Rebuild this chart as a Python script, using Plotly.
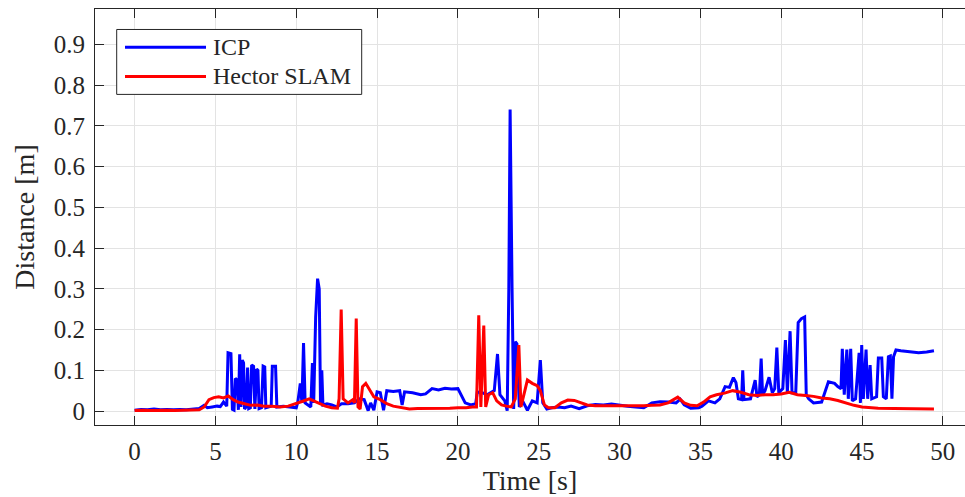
import plotly.graph_objects as go

# ---- data ----
icp_t = [0.0, 0.4, 0.8, 1.2, 1.6, 2.0, 2.4, 2.8, 3.2, 3.6, 4.0, 4.3, 4.5, 4.8, 5.1, 5.3, 5.5, 5.7,
         5.78, 5.96, 6.05, 6.15, 6.23, 6.33, 6.42, 6.50, 6.58, 6.66, 6.74, 6.80, 6.90, 6.99, 7.06,
         7.16, 7.24, 7.36, 7.44, 7.55, 7.63, 7.70, 7.85, 7.95, 8.05, 8.12, 8.3, 8.45, 8.52, 8.72,
         8.8, 9.2, 9.6, 10.0, 10.1, 10.25, 10.35, 10.45, 10.55, 10.7, 10.9, 11.0, 11.08, 11.2,
         11.32, 11.42, 11.5, 11.58, 11.65, 11.9, 12.2, 12.5, 12.8, 13.2, 13.6, 13.9, 14.2, 14.45,
         14.6, 14.8, 15.0, 15.2, 15.4, 15.6, 16.0, 16.4, 16.55, 16.7, 17.2, 17.7, 18.0, 18.4, 18.8,
         19.2, 19.6, 20.0, 20.2, 20.45, 20.8, 21.1, 21.2, 21.5, 21.8, 22.05, 22.25, 22.45, 22.6,
         22.9, 23.05, 23.15, 23.23, 23.35, 23.45, 23.55, 23.65, 23.8, 24.0, 24.3, 24.6, 24.9,
         25.1, 25.25, 25.5, 25.8, 26.2, 26.6, 27.0, 27.5, 28.0, 28.5, 29.0, 29.5, 30.0, 30.5,
         31.0, 31.5, 32.0, 32.5, 33.0, 33.5, 33.75, 34.0, 34.4, 34.9, 35.1, 35.5, 35.9, 36.2,
         36.53, 36.8, 37.04, 37.2, 37.35, 37.55, 37.62, 37.7, 38.1, 38.39, 38.5, 38.65, 38.76,
         38.85, 39.0, 39.25, 39.45, 39.6, 39.73, 39.85, 40.1, 40.26, 40.38, 40.55, 40.67, 40.9,
         41.05, 41.25, 41.45, 41.55, 41.7, 42.0, 42.5, 42.7, 42.92, 43.3, 43.5, 43.7, 43.78,
         43.9, 44.06, 44.15, 44.3, 44.4, 44.6, 44.82, 44.9, 44.98, 45.08, 45.25, 45.35, 45.5,
         45.6, 45.9, 46.01, 46.22, 46.32, 46.5, 46.63, 46.75, 46.85, 46.95, 47.1, 47.4, 48.0,
         48.5, 49.0, 49.45]
icp_d = [0.002, 0.004, 0.003, 0.005, 0.003, 0.004, 0.003, 0.004, 0.003, 0.005, 0.006, 0.014,
         0.008, 0.010, 0.012, 0.011, 0.022, 0.012, 0.143, 0.141, 0.004, 0.002, 0.080, 0.077,
         0.003, 0.139, 0.010, 0.125, 0.118, 0.005, 0.010, 0.107, 0.006, 0.008, 0.113, 0.110,
         0.005, 0.103, 0.100, 0.006, 0.008, 0.110, 0.108, 0.008, 0.010, 0.012, 0.110, 0.110,
         0.010, 0.012, 0.010, 0.008, 0.023, 0.068, 0.020, 0.167, 0.020, 0.015, 0.010, 0.118,
         0.020, 0.230, 0.325, 0.300, 0.020, 0.100, 0.015, 0.018, 0.015, 0.010, 0.018, 0.018,
         0.020, 0.030, 0.028, 0.001, 0.020, 0.002, 0.047, 0.045, 0.002, 0.050, 0.048, 0.050,
         0.015, 0.047, 0.045, 0.040, 0.042, 0.055, 0.052, 0.056, 0.054, 0.055, 0.040, 0.020,
         0.015, 0.018, 0.047, 0.045, 0.040, 0.045, 0.050, 0.140, 0.040, 0.025, 0.001, 0.300,
         0.740, 0.300, 0.005, 0.170, 0.165, 0.010, 0.025, 0.002, 0.025, 0.020, 0.125, 0.020,
         0.005, 0.008, 0.010, 0.008, 0.012, 0.006, 0.013, 0.016, 0.015, 0.017, 0.014, 0.012,
         0.010, 0.008, 0.020, 0.023, 0.022, 0.020, 0.029, 0.015, 0.007, 0.008, 0.012, 0.025,
         0.020, 0.030, 0.060, 0.058, 0.082, 0.070, 0.030, 0.028, 0.100, 0.028, 0.030, 0.076,
         0.035, 0.040, 0.129, 0.040, 0.050, 0.083, 0.045, 0.055, 0.156, 0.045, 0.055, 0.174,
         0.045, 0.196, 0.045, 0.045, 0.217, 0.227, 0.231, 0.040, 0.030, 0.020, 0.022, 0.045,
         0.072, 0.068, 0.060, 0.055, 0.153, 0.040, 0.151, 0.030, 0.153, 0.025, 0.030, 0.143,
         0.020, 0.162, 0.030, 0.151, 0.030, 0.113, 0.030, 0.035, 0.130, 0.130, 0.035, 0.030,
         0.133, 0.135, 0.030, 0.133, 0.150, 0.148, 0.145, 0.143, 0.145, 0.148]

hec_t = [0.0, 0.5, 1.0, 1.5, 2.0, 2.5, 3.0, 3.5, 4.0, 4.3, 4.6, 4.9, 5.2, 5.5, 5.8, 6.1, 6.4, 6.8,
         7.2, 7.6, 8.0, 8.5, 9.0, 9.5, 10.0, 10.4, 10.8, 11.1, 11.4, 11.8, 12.2, 12.55, 12.65,
         12.78, 12.9, 13.2, 13.5, 13.6, 13.71, 13.82, 13.95, 14.1, 14.3, 14.55, 14.8, 15.2, 15.6,
         16.0, 16.5, 17.0, 17.5, 18.0, 18.5, 19.0, 19.5, 20.0, 20.5, 20.9, 21.15, 21.29, 21.42,
         21.6, 21.72, 21.9, 22.15, 22.4, 22.7, 23.0, 23.3, 23.55, 23.77, 23.9, 24.1, 24.3, 24.6,
         24.9, 25.1, 25.35, 25.6, 26.0, 26.4, 26.8, 27.2, 27.6, 28.0, 28.5, 29.0, 29.5, 30.0,
         30.5, 31.0, 31.5, 32.0, 32.5, 33.0, 33.6, 34.0, 34.4, 34.8, 35.2, 35.6, 36.0, 36.5,
         37.0, 37.5, 38.0, 38.5, 39.0, 39.5, 40.0, 40.5, 41.0, 41.5, 42.0, 42.5, 43.0, 43.5,
         44.0, 44.5, 45.0, 45.5, 46.0, 47.0, 48.0, 49.45]
hec_d = [0.001, 0.002, 0.001, 0.002, 0.002, 0.001, 0.002, 0.002, 0.003, 0.010, 0.028, 0.033,
         0.035, 0.032, 0.037, 0.028, 0.022, 0.018, 0.014, 0.015, 0.012, 0.012, 0.010, 0.012,
         0.018, 0.024, 0.030, 0.025, 0.018, 0.012, 0.008, 0.007, 0.030, 0.249, 0.030, 0.020,
         0.028, 0.020, 0.227, 0.010, 0.005, 0.060, 0.068, 0.050, 0.035, 0.028, 0.018, 0.012,
         0.008, 0.005, 0.006, 0.006, 0.007, 0.006, 0.007, 0.008, 0.008, 0.010, 0.010, 0.235,
         0.010, 0.210, 0.010, 0.040, 0.045, 0.025, 0.015, 0.012, 0.010, 0.030, 0.162, 0.010,
         0.040, 0.076, 0.068, 0.062, 0.050, 0.015, 0.008, 0.008, 0.020, 0.027, 0.026, 0.020,
         0.015, 0.013, 0.013, 0.012, 0.013, 0.012, 0.013, 0.013, 0.014, 0.015, 0.020, 0.034,
         0.020, 0.014, 0.013, 0.022, 0.035, 0.040, 0.044, 0.050, 0.046, 0.040, 0.038, 0.040,
         0.040, 0.042, 0.046, 0.040, 0.038, 0.036, 0.032, 0.030, 0.026, 0.020, 0.014, 0.010,
         0.008, 0.007, 0.006, 0.006, 0.005]

x_ticks = [0, 5, 10, 15, 20, 25, 30, 35, 40, 45, 50]
y_ticks = [0, 0.1, 0.2, 0.3, 0.4, 0.5, 0.6, 0.7, 0.8, 0.9]
y_tick_text = ["0", "0.1", "0.2", "0.3", "0.4", "0.5", "0.6", "0.7", "0.8", "0.9"]
series_names = ["ICP", "Hector SLAM"]
series_colors = ["#0000ff", "#ff0000"]

FONT = "Liberation Serif"
W, H = 965, 497
L, R, T, B = 95, 0, 8.5, 72

fig = go.Figure()
fig.add_trace(go.Scatter(x=icp_t, y=icp_d, mode="lines", name=series_names[0],
                         line=dict(color=series_colors[0], width=3), showlegend=False))
fig.add_trace(go.Scatter(x=hec_t, y=hec_d, mode="lines", name=series_names[1],
                         line=dict(color=series_colors[1], width=3), showlegend=False))

axis_col = "#262626"
grid_col = "#e3e3e3"
fig.update_layout(
    width=W, height=H,
    margin=dict(l=L, r=R, t=T, b=B, pad=0, autoexpand=False),
    paper_bgcolor="white", plot_bgcolor="white",
    font=dict(family=FONT, color=axis_col),
    xaxis=dict(range=[-2.45, 51.37], tickvals=x_ticks, ticks="inside", ticklen=9,
               tickcolor=axis_col, showline=True, linecolor=axis_col, linewidth=1,
               mirror="ticks", showgrid=True, gridcolor=grid_col, zeroline=False,
               automargin=False, ticklabelstandoff=4,
               tickfont=dict(size=25, family=FONT, color=axis_col),
               title=dict(text="Time [s]", font=dict(size=28, family=FONT, color=axis_col),
                          standoff=0)),
    yaxis=dict(range=[-0.0343, 0.987], tickvals=y_ticks, ticktext=y_tick_text,
               ticks="inside", ticklen=9, tickcolor=axis_col, showline=True,
               linecolor=axis_col, linewidth=1, mirror=False, showgrid=True,
               gridcolor=grid_col, zeroline=False, automargin=False,
               ticklabelstandoff=4,
               tickfont=dict(size=25, family=FONT, color=axis_col),
               title=dict(text="Distance [m]", font=dict(size=28, family=FONT, color=axis_col),
                          standoff=10)),
)

# manual legend (pixel positions converted to paper coordinates)
pw, ph = W - L - R, H - T - B
def px(x):
    return (x - L) / pw
def py(y):
    return (H - B - y) / ph

fig.add_shape(type="rect", xref="paper", yref="paper", x0=px(116.7), x1=px(361.7),
              y0=py(94), y1=py(29), line=dict(color=axis_col, width=1), fillcolor="white",
              layer="above")
for i, (name, col) in enumerate(zip(series_names, series_colors)):
    yy = 46.7 + i * 29.3
    fig.add_shape(type="line", xref="paper", yref="paper", x0=px(125), x1=px(206),
                  y0=py(yy), y1=py(yy), line=dict(color=col, width=3), layer="above")
    fig.add_annotation(xref="paper", yref="paper", x=px(211), y=py(yy), text=name,
                       showarrow=False, xanchor="left", yanchor="middle",
                       font=dict(size=24, family=FONT, color=axis_col))

fig.write_html("out.html", config={"displayModeBar": False},
               post_script="document.body.style.margin='0';document.body.style.overflow='hidden';")
